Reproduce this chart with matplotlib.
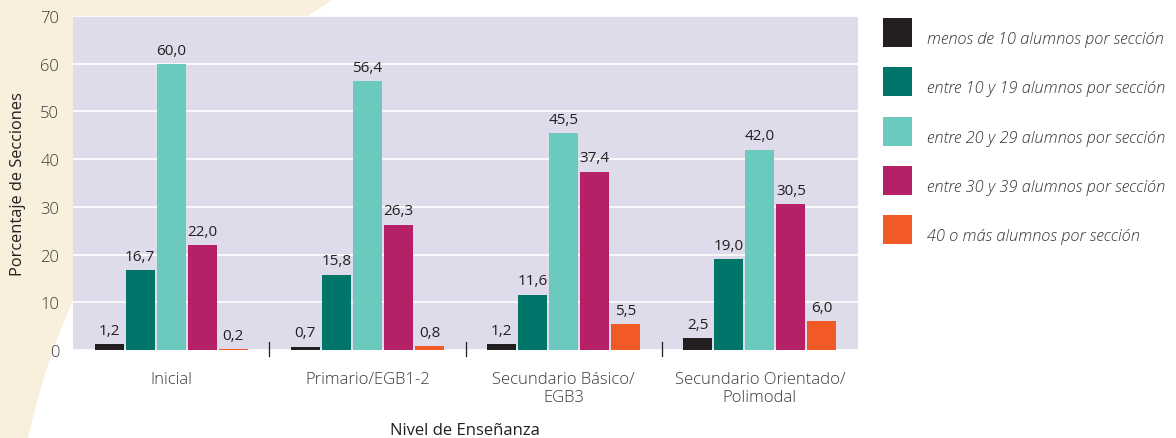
import numpy as np
import matplotlib.pyplot as plt
from matplotlib.patches import Polygon

plt.rcParams['font.family'] = ['Open Sans', 'DejaVu Sans']

niveles = ['Inicial', 'Primario/EGB1-2', 'Secundario Básico/\nEGB3', 'Secundario Orientado/\nPolimodal']
series_labels = ['menos de 10 alumnos por sección',
                 'entre 10 y 19 alumnos por sección',
                 'entre 20 y 29 alumnos por sección',
                 'entre 30 y 39 alumnos por sección',
                 '40 o más alumnos por sección']
menos_10 = [1.2, 0.7, 1.2, 2.5]
entre_10_19 = [16.7, 15.8, 11.6, 19.0]
entre_20_29 = [60.0, 56.4, 45.5, 42.0]
entre_30_39 = [22.0, 26.3, 37.4, 30.5]
mas_40 = [0.2, 0.8, 5.5, 6.0]
y_ticks = [0, 10, 20, 30, 40, 50, 60, 70]

colors = ['#231f20', '#00756a', '#6cc9be', '#b52066', '#f15a24']
series = [menos_10, entre_10_19, entre_20_29, entre_30_39, mas_40]

fig = plt.figure(figsize=(11.76, 4.39), dpi=100)

# cream decorative arc on the left
W, H = 1176, 439
cx, cy, r = 703, 583, 690
ys = np.linspace(0, H, 200)
xs = cx - np.sqrt(np.maximum(r**2 - (ys - cy)**2, 0))
pts = [(0, 0)] + list(zip(xs, ys)) + [(0, H)]
pts = [(px / W, 1 - py / H) for px, py in pts]
fig.add_artist(Polygon(pts, closed=True, transform=fig.transFigure,
                       facecolor='#f8efdc', edgecolor='none', zorder=0))

ax = fig.add_axes([73 / W, 1 - 351 / H, (858 - 73) / W, (351 - 17) / H])
ax.set_facecolor('#dedbeb')
for s in ax.spines.values():
    s.set_visible(False)

x = np.arange(len(niveles))
bw = 0.148
step = 0.158
for i, (vals, c) in enumerate(zip(series, colors)):
    pos = x + (i - 2) * step
    ax.bar(pos, vals, width=bw, color=c, zorder=3)
    for px, v in zip(pos, vals):
        ax.text(px, v + 1.3, f'{v:.1f}'.replace('.', ','), ha='center', va='bottom',
                fontsize=11, color='#231f20', zorder=4)

ax.set_xlim(-0.5, 3.5)
ax.set_ylim(0, 70)
ax.set_yticks(y_ticks)
ax.yaxis.grid(True, color='white', linewidth=1.2, zorder=1)
ax.set_axisbelow(True)
ax.tick_params(axis='y', length=0, labelsize=12, labelcolor='#3a3a3a', pad=10)
ax.set_xticks(x)
ax.set_xticklabels(niveles, fontsize=12, color='#3a3a3a', linespacing=1.2,
                   fontweight='light')
ax.tick_params(axis='x', length=0, pad=15)
for lab in ax.get_yticklabels():
    lab.set_fontweight('light')

# group separator marks
for sx in [0.5, 1.5, 2.5]:
    ax.plot([sx, sx], [-1.3, 1.7], color='#231f20', linewidth=0.9, clip_on=False, zorder=5)

ax.set_ylabel('Porcentaje de Secciones', fontsize=11.8, color='#231f20', labelpad=10)
fig.text(465 / W, 1 - 431 / H, 'Nivel de Enseñanza', ha='center', va='center',
         fontsize=12, color='#231f20')

# legend
for i, (lab, c) in enumerate(zip(series_labels, colors)):
    top = 19 + i * 49.3
    fig.add_artist(plt.Rectangle((883 / W, 1 - (top + 29) / H), 29 / W, 29 / H,
                                 transform=fig.transFigure, facecolor=c, edgecolor='none'))
    fig.text(927 / W, 1 - (top + 21) / H, lab, ha='left', va='center', fontsize=11.8,
             style='italic', fontweight='light', color='#333333')

fig.savefig('out.png', dpi=100)
